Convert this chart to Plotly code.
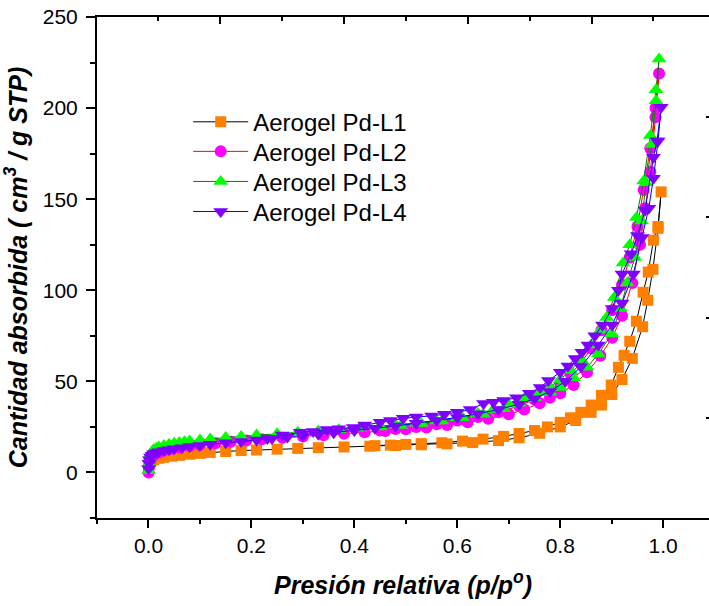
import plotly.graph_objects as go

# ---------------- data ----------------
series_names = ["Aerogel Pd-L1", "Aerogel Pd-L2", "Aerogel Pd-L3", "Aerogel Pd-L4"]

# Aerogel Pd-L1 (adsorption then desorption)
l1_x = [0.0005, 0.002, 0.005, 0.01, 0.02, 0.03, 0.045, 0.06, 0.08, 0.10, 0.12, 0.15, 0.18, 0.21,
        0.25, 0.29, 0.33, 0.38, 0.43, 0.48, 0.53, 0.58, 0.63, 0.68, 0.72, 0.76, 0.80, 0.83, 0.86,
        0.88, 0.90, 0.92, 0.94, 0.96, 0.97, 0.98, 0.99, 0.996,
        0.99, 0.981, 0.971, 0.961, 0.948, 0.935, 0.924, 0.913, 0.899, 0.88, 0.86, 0.84, 0.82,
        0.80, 0.775, 0.75, 0.72, 0.69, 0.65, 0.61, 0.57, 0.53, 0.50, 0.47, 0.44]
l1_y = [3, 5, 6.2, 7, 7.8, 8.3, 8.9, 9.4, 10, 10.5, 11, 11.5, 12, 12.3,
        12.8, 13.2, 13.6, 14, 14.4, 14.8, 15.2, 15.7, 16.4, 17.5, 19, 21.5, 25, 28.5, 33,
        37, 42.8, 51, 62.6, 80, 94.5, 111.5, 134, 154,
        135, 127.5, 110, 98.9, 83, 72, 64.3, 57.7, 48, 42.3, 37, 33, 30,
        27.5, 25, 23, 21.4, 19.8, 18.3, 17.2, 16.3, 15.8, 15.4, 15, 14.7]

# Aerogel Pd-L2
l2_x = [0.0003, 0.001, 0.003, 0.006, 0.01, 0.02, 0.03, 0.045, 0.06, 0.08, 0.10, 0.13, 0.16, 0.19,
        0.22, 0.26, 0.30, 0.34, 0.38, 0.42, 0.46, 0.50, 0.54, 0.58, 0.62, 0.66, 0.70, 0.73, 0.76,
        0.78, 0.80, 0.826, 0.852, 0.878, 0.901, 0.92, 0.94, 0.955, 0.965, 0.975, 0.985, 0.992,
        0.985, 0.975, 0.962, 0.95, 0.935, 0.92, 0.901, 0.88, 0.86, 0.84, 0.82, 0.80, 0.78,
        0.75, 0.72, 0.68, 0.64, 0.60, 0.56, 0.52, 0.48, 0.45]
l2_y = [0, 3, 6, 8, 9.5, 11, 12, 13, 13.7, 14.5, 15.2, 16, 16.8, 17.5,
        18.2, 19, 19.7, 20.4, 21.2, 22, 22.8, 23.7, 24.7, 26, 27.5, 29.5, 32, 34.5, 38,
        41, 43.5, 48, 55, 64, 74, 86, 104, 125, 145, 165, 195, 219,
        200, 178, 155, 135, 118, 103, 89, 78, 68, 60, 54, 49, 45,
        40, 36.5, 33, 30.5, 28.5, 26.5, 25, 23.8, 23]

# Aerogel Pd-L3
l3_x = [0.0003, 0.001, 0.002, 0.004, 0.007, 0.01, 0.015, 0.02, 0.03, 0.04, 0.05, 0.06, 0.07, 0.08,
        0.10, 0.12, 0.15, 0.18, 0.21, 0.25, 0.29, 0.33, 0.37, 0.41, 0.45, 0.49, 0.53, 0.57, 0.61,
        0.65, 0.69, 0.72, 0.75, 0.78, 0.80, 0.826, 0.852, 0.874, 0.90, 0.917, 0.93, 0.945, 0.958,
        0.967, 0.978, 0.986, 0.992,
        0.986, 0.975, 0.962, 0.948, 0.935, 0.922, 0.905, 0.89, 0.878, 0.86, 0.84, 0.82, 0.80,
        0.78, 0.76, 0.73, 0.70, 0.67, 0.64, 0.60, 0.56, 0.52, 0.48, 0.45]
l3_y = [1, 5, 8, 10, 11.5, 12.5, 13.3, 14, 14.8, 15.5, 16, 16.4, 16.8, 17.2,
        17.8, 18.4, 19.2, 19.8, 20.5, 21.3, 22, 22.8, 23.5, 24.2, 25, 25.8, 26.9, 28.3, 30,
        32, 35, 38, 41, 44, 46.7, 52, 57.7, 65, 76, 90, 104, 118, 138,
        159, 180, 204, 227,
        210, 185, 160, 140, 125, 115, 96, 85, 78, 70, 62, 56, 51,
        47, 44, 40.5, 37.5, 34.5, 32.4, 30, 28.3, 27, 26, 25.5]

# Aerogel Pd-L4
l4_x = [0.0003, 0.001, 0.002, 0.004, 0.007, 0.01, 0.015, 0.02, 0.03, 0.04, 0.05, 0.065, 0.08, 0.10,
        0.12, 0.15, 0.18, 0.21, 0.24, 0.27, 0.30, 0.33, 0.36, 0.40, 0.44, 0.48, 0.52, 0.56, 0.60,
        0.64, 0.68, 0.72, 0.75, 0.78, 0.81, 0.84, 0.874, 0.901, 0.92, 0.942, 0.959, 0.972, 0.981,
        0.99, 0.996,
        0.988, 0.981, 0.965, 0.95, 0.938, 0.92, 0.913, 0.901, 0.882, 0.867, 0.854, 0.842, 0.829,
        0.815, 0.80, 0.777, 0.761, 0.74, 0.715, 0.69, 0.67, 0.651, 0.625, 0.60, 0.575, 0.55,
        0.52, 0.495, 0.47, 0.45, 0.42, 0.398, 0.37, 0.347, 0.32, 0.295, 0.26, 0.231]
l4_y = [2, 5, 7, 8.5, 9.5, 10.2, 10.8, 11.3, 12, 12.5, 13, 13.6, 14.2, 14.8,
        15.5, 16.3, 17, 17.8, 18.6, 19.4, 20.2, 21, 21.8, 23, 24.2, 25.5, 27, 28.5, 30.2,
        32.2, 34.5, 37.5, 40.5, 44.5, 50, 58, 70, 81, 93, 109, 129, 145, 161.5,
        182, 200.5,
        182, 173, 144, 130, 120, 109, 100, 90, 81, 75, 70, 66, 62.6,
        58.5, 55, 50.5, 46.7, 43.5, 41, 39.5, 38.5, 37.9, 34.5, 33, 32, 31,
        30.5, 29.7, 28.5, 27.5, 26, 24.7, 24, 23.6, 22.5, 22, 20.5, 18.7]

xs = [l1_x, l2_x, l3_x, l4_x]
ys = [l1_y, l2_y, l3_y, l4_y]

x_ticks = [0.0, 0.2, 0.4, 0.6, 0.8, 1.0]
y_ticks = [0, 50, 100, 150, 200, 250]

# ---------------- style ----------------
marker_colors = ["#FF8000", "#FF00FF", "#00FF00", "#8000FF"]
line_colors = ["#000000", "#FF0000", "#008000", "#0000FF"]
symbols = ["square", "circle", "triangle-up", "triangle-down"]
sizes = [11, 12, 13, 13]
legend_ids = ["legend", "legend2", "legend3", "legend4"]
legend_rows_y = [0.790, 0.731, 0.671, 0.611]
FONT = "Liberation Sans, Arial, sans-serif"

fig = go.Figure()
for name, x, y, mc, lc, sym, sz, lg in zip(series_names, xs, ys, marker_colors, line_colors,
                                           symbols, sizes, legend_ids):
    fig.add_trace(go.Scatter(
        x=x, y=y, name=name, mode="lines+markers", legend=lg,
        line=dict(color=lc, width=1),
        marker=dict(symbol=sym, size=sz, color=mc, line=dict(width=0)),
    ))

# empty helper trace so the top / right decoration axes exist
fig.add_trace(go.Scatter(x=[], y=[], xaxis="x2", yaxis="y2", showlegend=False, hoverinfo="skip"))

xr = [-0.1, 1.089]
yr = [-25, 250]

legend_layouts = {}
for lg, ly in zip(legend_ids, legend_rows_y):
    legend_layouts[lg] = dict(x=0.149, y=ly, xanchor="left", yanchor="middle",
                              bgcolor="rgba(0,0,0,0)", font=dict(size=24, family=FONT),
                              itemwidth=55)

fig.update_layout(
    width=709, height=606,
    margin=dict(l=97, r=0, t=17, b=88),
    paper_bgcolor="white", plot_bgcolor="white",
    font=dict(family=FONT, size=21, color="#000000"),
    showlegend=True,
    **legend_layouts,
    xaxis=dict(
        range=xr, tickvals=x_ticks, ticktext=[f"{v:.1f}" for v in x_ticks],
        ticks="outside", ticklen=8, tickwidth=2, tickcolor="black",
        showline=True, linewidth=2, linecolor="black",
        showgrid=False, zeroline=False, automargin=False,
        minor=dict(dtick=0.1, tick0=0, ticks="outside", ticklen=4, tickwidth=2, tickcolor="black"),
        tickfont=dict(size=21),
        title=dict(text="<b><i>Presión relativa (p/p<sup>o</sup>)</i></b>",
                   font=dict(size=25), standoff=20),
    ),
    yaxis=dict(
        range=yr, tickvals=y_ticks,
        ticks="outside", ticklen=9, tickwidth=2, tickcolor="black",
        showline=True, linewidth=2, linecolor="black",
        showgrid=False, zeroline=False, automargin=False,
        ticklabelstandoff=4,
        minor=dict(dtick=25, tick0=0, ticks="outside", ticklen=5, tickwidth=2, tickcolor="black"),
        tickfont=dict(size=21),
        title=dict(text="<b><i>Cantidad absorbida ( cm<sup>3</sup> / g STP)</i></b>",
                   font=dict(size=25), standoff=9),
    ),
    xaxis2=dict(
        overlaying="x", side="top", anchor="y2", range=xr, automargin=False,
        tickvals=[0.1398, 0.3806, 0.6214, 0.8621],
        ticks="inside", ticklen=7, tickwidth=2, tickcolor="black",
        minor=dict(tickvals=[0.0194, 0.2602, 0.5010, 0.7417, 0.9806],
                   ticks="inside", ticklen=4, tickwidth=2, tickcolor="black"),
        showticklabels=False, showline=True, linewidth=2, linecolor="black",
        showgrid=False, zeroline=False,
    ),
    yaxis2=dict(
        overlaying="y", side="right", anchor="x2", range=yr, automargin=False,
        tickvals=[29.9, 84.8, 140.2, 195.1],
        ticks="inside", ticklen=3, tickwidth=2, tickcolor="black",
        showticklabels=False, showline=False, showgrid=False, zeroline=False,
    ),
)

fig.write_html("out.html",
               config={"displayModeBar": False},
               post_script="document.body.style.margin='0';document.body.style.overflow='hidden';")
